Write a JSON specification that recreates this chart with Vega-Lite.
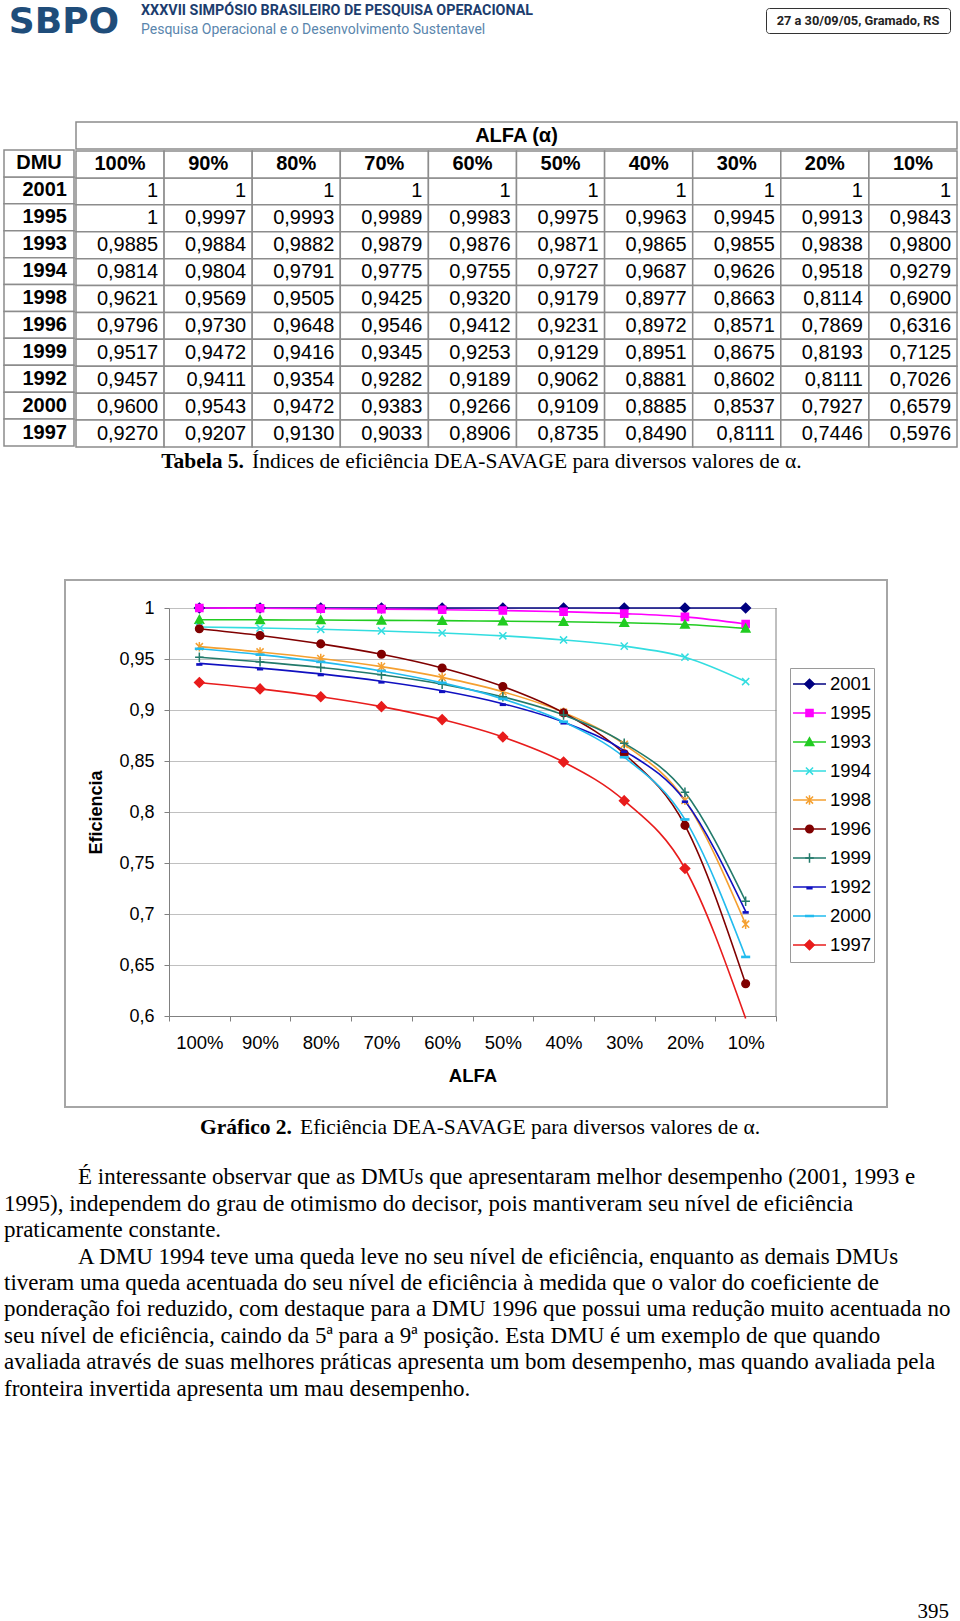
{
  "$schema": "https://vega.github.io/schema/vega-lite/v6.json",
  "padding": 0,
  "background": "white",
  "spacing": 0,
  "config": {
    "view": {"stroke": null},
    "font": "Liberation Sans",
    "locale": {"number": {"decimal": ",", "thousands": ".", "grouping": [3], "currency": ["R$", ""]}}
  },
  "datasets": {
    "eficiencia": [
      {"DMU":"2001","alfa":"100%","ef":1},{"DMU":"2001","alfa":"90%","ef":1},{"DMU":"2001","alfa":"80%","ef":1},{"DMU":"2001","alfa":"70%","ef":1},{"DMU":"2001","alfa":"60%","ef":1},{"DMU":"2001","alfa":"50%","ef":1},{"DMU":"2001","alfa":"40%","ef":1},{"DMU":"2001","alfa":"30%","ef":1},{"DMU":"2001","alfa":"20%","ef":1},{"DMU":"2001","alfa":"10%","ef":1},
      {"DMU":"1995","alfa":"100%","ef":1},{"DMU":"1995","alfa":"90%","ef":0.9997},{"DMU":"1995","alfa":"80%","ef":0.9993},{"DMU":"1995","alfa":"70%","ef":0.9989},{"DMU":"1995","alfa":"60%","ef":0.9983},{"DMU":"1995","alfa":"50%","ef":0.9975},{"DMU":"1995","alfa":"40%","ef":0.9963},{"DMU":"1995","alfa":"30%","ef":0.9945},{"DMU":"1995","alfa":"20%","ef":0.9913},{"DMU":"1995","alfa":"10%","ef":0.9843},
      {"DMU":"1993","alfa":"100%","ef":0.9885},{"DMU":"1993","alfa":"90%","ef":0.9884},{"DMU":"1993","alfa":"80%","ef":0.9882},{"DMU":"1993","alfa":"70%","ef":0.9879},{"DMU":"1993","alfa":"60%","ef":0.9876},{"DMU":"1993","alfa":"50%","ef":0.9871},{"DMU":"1993","alfa":"40%","ef":0.9865},{"DMU":"1993","alfa":"30%","ef":0.9855},{"DMU":"1993","alfa":"20%","ef":0.9838},{"DMU":"1993","alfa":"10%","ef":0.98},
      {"DMU":"1994","alfa":"100%","ef":0.9814},{"DMU":"1994","alfa":"90%","ef":0.9804},{"DMU":"1994","alfa":"80%","ef":0.9791},{"DMU":"1994","alfa":"70%","ef":0.9775},{"DMU":"1994","alfa":"60%","ef":0.9755},{"DMU":"1994","alfa":"50%","ef":0.9727},{"DMU":"1994","alfa":"40%","ef":0.9687},{"DMU":"1994","alfa":"30%","ef":0.9626},{"DMU":"1994","alfa":"20%","ef":0.9518},{"DMU":"1994","alfa":"10%","ef":0.9279},
      {"DMU":"1998","alfa":"100%","ef":0.9621},{"DMU":"1998","alfa":"90%","ef":0.9569},{"DMU":"1998","alfa":"80%","ef":0.9505},{"DMU":"1998","alfa":"70%","ef":0.9425},{"DMU":"1998","alfa":"60%","ef":0.932},{"DMU":"1998","alfa":"50%","ef":0.9179},{"DMU":"1998","alfa":"40%","ef":0.8977},{"DMU":"1998","alfa":"30%","ef":0.8663},{"DMU":"1998","alfa":"20%","ef":0.8114},{"DMU":"1998","alfa":"10%","ef":0.69},
      {"DMU":"1996","alfa":"100%","ef":0.9796},{"DMU":"1996","alfa":"90%","ef":0.973},{"DMU":"1996","alfa":"80%","ef":0.9648},{"DMU":"1996","alfa":"70%","ef":0.9546},{"DMU":"1996","alfa":"60%","ef":0.9412},{"DMU":"1996","alfa":"50%","ef":0.9231},{"DMU":"1996","alfa":"40%","ef":0.8972},{"DMU":"1996","alfa":"30%","ef":0.8571},{"DMU":"1996","alfa":"20%","ef":0.7869},{"DMU":"1996","alfa":"10%","ef":0.6316},
      {"DMU":"1999","alfa":"100%","ef":0.9517},{"DMU":"1999","alfa":"90%","ef":0.9472},{"DMU":"1999","alfa":"80%","ef":0.9416},{"DMU":"1999","alfa":"70%","ef":0.9345},{"DMU":"1999","alfa":"60%","ef":0.9253},{"DMU":"1999","alfa":"50%","ef":0.9129},{"DMU":"1999","alfa":"40%","ef":0.8951},{"DMU":"1999","alfa":"30%","ef":0.8675},{"DMU":"1999","alfa":"20%","ef":0.8193},{"DMU":"1999","alfa":"10%","ef":0.7125},
      {"DMU":"1992","alfa":"100%","ef":0.9457},{"DMU":"1992","alfa":"90%","ef":0.9411},{"DMU":"1992","alfa":"80%","ef":0.9354},{"DMU":"1992","alfa":"70%","ef":0.9282},{"DMU":"1992","alfa":"60%","ef":0.9189},{"DMU":"1992","alfa":"50%","ef":0.9062},{"DMU":"1992","alfa":"40%","ef":0.8881},{"DMU":"1992","alfa":"30%","ef":0.8602},{"DMU":"1992","alfa":"20%","ef":0.8111},{"DMU":"1992","alfa":"10%","ef":0.7026},
      {"DMU":"2000","alfa":"100%","ef":0.96},{"DMU":"2000","alfa":"90%","ef":0.9543},{"DMU":"2000","alfa":"80%","ef":0.9472},{"DMU":"2000","alfa":"70%","ef":0.9383},{"DMU":"2000","alfa":"60%","ef":0.9266},{"DMU":"2000","alfa":"50%","ef":0.9109},{"DMU":"2000","alfa":"40%","ef":0.8885},{"DMU":"2000","alfa":"30%","ef":0.8537},{"DMU":"2000","alfa":"20%","ef":0.7927},{"DMU":"2000","alfa":"10%","ef":0.6579},
      {"DMU":"1997","alfa":"100%","ef":0.927},{"DMU":"1997","alfa":"90%","ef":0.9207},{"DMU":"1997","alfa":"80%","ef":0.913},{"DMU":"1997","alfa":"70%","ef":0.9033},{"DMU":"1997","alfa":"60%","ef":0.8906},{"DMU":"1997","alfa":"50%","ef":0.8735},{"DMU":"1997","alfa":"40%","ef":0.849},{"DMU":"1997","alfa":"30%","ef":0.8111},{"DMU":"1997","alfa":"20%","ef":0.7446},{"DMU":"1997","alfa":"10%","ef":0.5976}
    ],
    "paragrafo": [
      {"linha": 1, "texto": "É interessante observar que as DMUs que apresentaram melhor desempenho (2001, 1993 e"},
      {"linha": 2, "texto": "1995), independem do grau de otimismo do decisor, pois mantiveram seu nível de eficiência"},
      {"linha": 3, "texto": "praticamente constante."},
      {"linha": 4, "texto": "A DMU 1994 teve uma queda leve no seu nível de eficiência, enquanto as demais DMUs"},
      {"linha": 5, "texto": "tiveram uma queda acentuada do seu nível de eficiência à medida que o valor do coeficiente de"},
      {"linha": 6, "texto": "ponderação foi reduzido, com destaque para a DMU 1996 que possui uma redução muito acentuada no"},
      {"linha": 7, "texto": "seu nível de eficiência, caindo da 5ª para a 9ª posição. Esta DMU é um exemplo de que quando"},
      {"linha": 8, "texto": "avaliada através de suas melhores práticas apresenta um bom desempenho, mas quando avaliada pela"},
      {"linha": 9, "texto": "fronteira invertida apresenta um mau desempenho."}
    ]
  },
  "vconcat": [
    {
      "hconcat": [
        {
          "width": 128, "height": 40,
          "data": {"values": [{"t": "SBPO"}]},
          "mark": {"type": "text", "font": "DejaVu Sans", "fontWeight": "bold", "fontSize": 36, "color": "#1f4d7a", "baseline": "middle", "dy": 2},
          "encoding": {"text": {"field": "t"}}
        },
        {
          "width": 637, "height": 40,
          "data": {"values": [{"linha": "1", "t": "XXXVII SIMPÓSIO BRASILEIRO DE PESQUISA OPERACIONAL"}, {"linha": "2", "t": "Pesquisa Operacional e o Desenvolvimento Sustentavel"}]},
          "encoding": {
            "x": {"datum": 0, "type": "quantitative", "scale": {"domain": [0, 1]}, "axis": null},
            "y": {"field": "linha", "type": "ordinal", "bandPosition": 0.5, "scale": {"type": "band", "domain": ["1", "2"], "paddingInner": 0, "paddingOuter": 0}, "axis": null},
            "text": {"field": "t"}
          },
          "layer": [
            {"transform": [{"filter": "datum.linha == '1'"}], "mark": {"type": "text", "align": "left", "baseline": "middle", "dx": 13, "dy": 1, "font": "Roboto", "fontWeight": "bold", "fontSize": 14.3, "color": "#1c3d6e"}},
            {"transform": [{"filter": "datum.linha == '2'"}], "mark": {"type": "text", "align": "left", "baseline": "middle", "dx": 13, "font": "Roboto", "fontSize": 14, "color": "#5a86ad"}}
          ]
        },
        {
          "vconcat": [
            {"width": 184, "height": 7, "data": {"values": []}, "mark": "text", "encoding": {}},
            {
              "width": 184, "height": 25,
              "view": {"stroke": "#333333", "strokeWidth": 1, "cornerRadius": 3},
              "data": {"values": [{"t": "27 a 30/09/05, Gramado, RS"}]},
              "mark": {"type": "text", "font": "Roboto", "fontWeight": "bold", "fontSize": 12.8, "color": "#222222", "baseline": "middle"},
              "encoding": {"text": {"field": "t"}}
            }
          ],
          "spacing": 0
        }
      ],
      "spacing": 0
    },
    {"width": 960, "height": 81, "data": {"values": []}, "mark": "text", "encoding": {}},
    {
      "hconcat": [
        {"width": 3, "height": 323, "data": {"values": []}, "mark": "text", "encoding": {}},
        {
          "vconcat": [
            {"width": 70, "height": 27, "data": {"values": []}, "mark": "text", "encoding": {}},
            {
              "width": 70, "height": 296,
              "data": {"name": "eficiencia"},
              "transform": [{"filter": "datum.alfa == '100%'"}],
              "layer": [
                {
                  "mark": {"type": "rect", "fill": "white", "stroke": "#8c8c8c", "strokeWidth": 1.5},
                  "encoding": {"y": {"field": "DMU", "type": "nominal", "scale": {"type": "band", "domain": ["DMU","2001","1995","1993","1994","1998","1996","1999","1992","2000","1997"], "paddingInner": 0, "paddingOuter": 0}, "axis": null}}
                },
                {
                  "transform": [{"filter": "datum.DMU == '2001'"}],
                  "mark": {"type": "rect", "fill": "white", "stroke": "#8c8c8c", "strokeWidth": 1.5},
                  "encoding": {"y": {"datum": "DMU", "type": "nominal"}}
                },
                {
                  "mark": {"type": "text", "align": "right", "baseline": "middle", "dx": 28, "fontWeight": "bold", "fontSize": 20, "color": "black"},
                  "encoding": {"y": {"field": "DMU", "type": "nominal", "bandPosition": 0.5}, "text": {"field": "DMU"}}
                },
                {
                  "transform": [{"filter": "datum.DMU == '2001'"}],
                  "mark": {"type": "text", "align": "center", "baseline": "middle", "fontWeight": "bold", "fontSize": 20, "color": "black"},
                  "encoding": {"y": {"datum": "DMU", "type": "nominal", "bandPosition": 0.5}, "text": {"value": "DMU"}}
                }
              ]
            }
          ],
          "spacing": 0
        },
        {
          "vconcat": [
            {
              "width": 881, "height": 27,
              "view": {"stroke": "#8c8c8c", "strokeWidth": 1.5},
              "data": {"values": [{"t": "ALFA (α)"}]},
              "mark": {"type": "text", "baseline": "middle", "fontWeight": "bold", "fontSize": 20, "color": "black"},
              "encoding": {"text": {"field": "t"}}
            },
            {
              "width": 881, "height": 296,
              "data": {"name": "eficiencia"},
              "encoding": {
                "x": {"field": "alfa", "type": "ordinal", "scale": {"type": "band", "domain": ["100%","90%","80%","70%","60%","50%","40%","30%","20%","10%"], "paddingInner": 0, "paddingOuter": 0}, "axis": null},
                "y": {"field": "DMU", "type": "nominal", "scale": {"type": "band", "domain": ["DMU","2001","1995","1993","1994","1998","1996","1999","1992","2000","1997"], "paddingInner": 0, "paddingOuter": 0}, "axis": null}
              },
              "layer": [
                {"mark": {"type": "rect", "fill": "white", "stroke": "#8c8c8c", "strokeWidth": 1.5}},
                {
                  "transform": [{"filter": "datum.DMU == '2001'"}],
                  "mark": {"type": "rect", "fill": "white", "stroke": "#8c8c8c", "strokeWidth": 1.5},
                  "encoding": {"y": {"datum": "DMU", "type": "nominal"}}
                },
                {
                  "transform": [{"filter": "datum.DMU == '2001'"}],
                  "mark": {"type": "text", "align": "center", "baseline": "middle", "fontWeight": "bold", "fontSize": 20, "color": "black"},
                  "encoding": {
                    "x": {"field": "alfa", "type": "ordinal", "bandPosition": 0.5},
                    "y": {"datum": "DMU", "type": "nominal", "bandPosition": 0.5},
                    "text": {"field": "alfa"}
                  }
                },
                {
                  "mark": {"type": "text", "align": "right", "baseline": "middle", "dx": -6, "fontSize": 20, "color": "black"},
                  "encoding": {
                    "x": {"field": "alfa", "type": "ordinal", "bandPosition": 1},
                    "y": {"field": "DMU", "type": "nominal", "bandPosition": 0.5},
                    "text": {"condition": {"test": "datum.ef == 1", "value": "1"}, "field": "ef", "type": "quantitative", "format": ".4f"}
                  }
                }
              ]
            }
          ],
          "spacing": 0
        }
      ],
      "spacing": 0
    },
    {
      "hconcat": [
        {
          "width": 248, "height": 28,
          "data": {"values": [{"rotulo": "Tabela 5."}]},
          "mark": {"type": "text", "align": "right", "baseline": "middle", "dx": -4, "font": "Liberation Serif", "fontWeight": "bold", "fontSize": 21.5, "color": "black"},
          "encoding": {"x": {"datum": 1, "type": "quantitative", "scale": {"domain": [0, 1]}, "axis": null}, "text": {"field": "rotulo"}}
        },
        {
          "width": 712, "height": 28,
          "data": {"values": [{"descricao": "Índices de eficiência DEA-SAVAGE para diversos valores de α."}]},
          "mark": {"type": "text", "align": "left", "baseline": "middle", "dx": 4, "font": "Liberation Serif", "fontSize": 21.5, "color": "black"},
          "encoding": {"x": {"datum": 0, "type": "quantitative", "scale": {"domain": [0, 1]}, "axis": null}, "text": {"field": "descricao"}}
        }
      ],
      "spacing": 0
    },
    {"width": 960, "height": 103, "data": {"values": []}, "mark": "text", "encoding": {}},
    {
      "hconcat": [
        {"width": 64, "height": 527, "data": {"values": []}, "mark": "text", "encoding": {}},
        {
          "width": 822, "height": 527,
          "view": {"stroke": "#a6a6a6", "strokeWidth": 2},
          "data": {"name": "eficiencia"},
          "encoding": {
            "x": {
              "field": "alfa", "type": "ordinal", "bandPosition": 0.5,
              "scale": {"type": "band", "domain": ["100%","90%","80%","70%","60%","50%","40%","30%","20%","10%"], "range": [104, 711], "paddingInner": 0, "paddingOuter": 0},
              "axis": {"orient": "bottom", "offset": -91, "title": "ALFA", "tickBand": "extent", "labelAngle": 0, "labelFont": "Liberation Sans", "labelFontSize": 18.5, "labelColor": "black", "labelPadding": 12, "domainColor": "#808080", "tickColor": "#808080", "tickSize": 5, "titleFont": "Liberation Sans", "titleFontSize": 18.5, "titleFontWeight": "bold", "titleColor": "black", "titlePadding": 15, "grid": false}
            },
            "y": {
              "field": "ef", "type": "quantitative",
              "scale": {"domain": [0.6, 1], "range": [436, 28], "nice": false, "zero": false},
              "axis": {"orient": "left", "offset": -104, "values": [0.6, 0.65, 0.7, 0.75, 0.8, 0.85, 0.9, 0.95, 1], "format": "~g", "title": "Eficiencia", "labelFont": "Liberation Sans", "labelFontSize": 18, "labelColor": "black", "labelPadding": 10, "domainColor": "#808080", "tickColor": "#808080", "tickSize": 5, "grid": true, "gridColor": "#c0c0c0", "titleFont": "Liberation Sans", "titleFontSize": 18, "titleFontWeight": "bold", "titleColor": "black", "titlePadding": 13}
            }
          },
          "layer": [
            {
              "transform": [{"filter": "datum.DMU == '2001' && datum.alfa == '10%'"}],
              "mark": {"type": "rule", "color": "#808080", "strokeWidth": 1},
              "encoding": {
                "x": {"datum": "10%", "type": "ordinal", "bandPosition": 1},
                "y": {"datum": 0.6, "type": "quantitative"},
                "y2": {"datum": 1}
              }
            },
            {
              "mark": {"type": "line", "interpolate": "monotone", "strokeWidth": 1.6},
              "encoding": {
                "color": {
                  "field": "DMU", "type": "nominal",
                  "sort": ["2001","1995","1993","1994","1998","1996","1999","1992","2000","1997"],
                  "scale": {"range": ["#000080","#ff00ff","#22cc22","#33dde0","#f5a030","#800000","#227a6b","#1010c0","#22bbee","#e81c1c"]},
                  "legend": {
                    "orient": "none", "legendX": 790, "legendY": 668, "title": null, "direction": "vertical",
                    "strokeColor": "#9a9a9a", "padding": 2,
                    "labelFont": "Liberation Sans", "labelFontSize": 18.5, "labelColor": "black", "labelOffset": 3,
                    "symbolType": "stroke", "symbolSize": 1089, "symbolStrokeWidth": 1.6, "rowPadding": 0, "clipHeight": 28.1
                  }
                }
              }
            },
            {
              "transform": [{"filter": "datum.ef >= 0.6"}],
              "mark": {"type": "point", "filled": true, "size": 90, "strokeWidth": 1.5, "opacity": 1},
              "encoding": {
                "fill": {"field": "DMU", "type": "nominal", "scale": {"domain": ["2001","1995","1993","1994","1998","1996","1999","1992","2000","1997"], "range": ["#000080","#ff00ff","#22cc22","#33dde0","#f5a030","#800000","#227a6b","#1010c0","#22bbee","#e81c1c"]},
                  "legend": {"orient": "none", "legendX": 790, "legendY": 668, "title": null, "direction": "vertical", "padding": 2, "labelFont": "Liberation Sans", "labelFontSize": 18.5, "labelExpr": "''", "labelOffset": 3, "symbolSize": 90, "symbolStrokeWidth": 1.5, "symbolOffset": 8.25, "rowPadding": 0, "clipHeight": 28.1}},
                "stroke": {"field": "DMU", "type": "nominal", "scale": {"domain": ["2001","1995","1993","1994","1998","1996","1999","1992","2000","1997"], "range": ["#000080","#ff00ff","#22cc22","#33dde0","#f5a030","#800000","#227a6b","#1010c0","#22bbee","#e81c1c"]},
                  "legend": {"orient": "none", "legendX": 790, "legendY": 668, "title": null, "direction": "vertical", "padding": 2, "labelFont": "Liberation Sans", "labelFontSize": 18.5, "labelExpr": "''", "labelOffset": 3, "symbolSize": 90, "symbolStrokeWidth": 1.5, "symbolOffset": 8.25, "rowPadding": 0, "clipHeight": 28.1}},
                "shape": {"field": "DMU", "type": "nominal", "scale": {"domain": ["2001","1995","1993","1994","1998","1996","1999","1992","2000","1997"], "range": ["M0,-1L1,0L0,1L-1,0Z", "M-0.75,-0.75H0.75V0.75H-0.75Z", "M0,-0.9L0.9,0.75H-0.9Z", "M-0.75,-0.75L0.75,0.75M-0.75,0.75L0.75,-0.75", "M-0.75,-0.75L0.75,0.75M-0.75,0.75L0.75,-0.75M0,-1V1", "M-0.8,0A0.8,0.8,0,1,0,0.8,0A0.8,0.8,0,1,0,-0.8,0Z", "M-0.9,0H0.9M0,-1V1", "M-0.5,0.1H0.5V0.35H-0.5Z", "M-0.8,-0.12H0.8V0.12H-0.8Z", "M0,-1L1,0L0,1L-1,0Z"]},
                  "legend": {"orient": "none", "legendX": 790, "legendY": 668, "title": null, "direction": "vertical", "padding": 2, "labelFont": "Liberation Sans", "labelFontSize": 18.5, "labelExpr": "''", "labelOffset": 3, "symbolSize": 90, "symbolStrokeWidth": 1.5, "symbolOffset": 8.25, "rowPadding": 0, "clipHeight": 28.1}}
              }
            }
          ]
        }
      ],
      "spacing": 0
    },
    {
      "hconcat": [
        {
          "width": 296, "height": 40,
          "data": {"values": [{"rotulo": "Gráfico 2."}]},
          "mark": {"type": "text", "align": "right", "baseline": "middle", "dx": -4, "font": "Liberation Serif", "fontWeight": "bold", "fontSize": 21.5, "color": "black"},
          "encoding": {"x": {"datum": 1, "type": "quantitative", "scale": {"domain": [0, 1]}, "axis": null}, "text": {"field": "rotulo"}}
        },
        {
          "width": 664, "height": 40,
          "data": {"values": [{"descricao": "Eficiência DEA-SAVAGE para diversos valores de α."}]},
          "mark": {"type": "text", "align": "left", "baseline": "middle", "dx": 4, "font": "Liberation Serif", "fontSize": 21.5, "color": "black"},
          "encoding": {"x": {"datum": 0, "type": "quantitative", "scale": {"domain": [0, 1]}, "axis": null}, "text": {"field": "descricao"}}
        }
      ],
      "spacing": 0
    },
    {"width": 960, "height": 16, "data": {"values": []}, "mark": "text", "encoding": {}},
    {
      "width": 960, "height": 238,
      "data": {"name": "paragrafo"},
      "encoding": {
        "x": {"datum": 0, "type": "quantitative", "scale": {"domain": [0, 1]}, "axis": null},
        "y": {"field": "linha", "type": "ordinal", "bandPosition": 0.5, "scale": {"type": "band", "domain": [1, 2, 3, 4, 5, 6, 7, 8, 9], "paddingInner": 0, "paddingOuter": 0}, "axis": null},
        "text": {"field": "texto"}
      },
      "layer": [
        {
          "transform": [{"filter": "datum.linha == 1 || datum.linha == 4"}],
          "mark": {"type": "text", "align": "left", "baseline": "middle", "dx": 78, "font": "Liberation Serif", "fontSize": 23, "color": "black"}
        },
        {
          "transform": [{"filter": "datum.linha != 1 && datum.linha != 4"}],
          "mark": {"type": "text", "align": "left", "baseline": "middle", "dx": 4, "font": "Liberation Serif", "fontSize": 23, "color": "black"}
        }
      ]
    },
    {"width": 960, "height": 199, "data": {"values": []}, "mark": "text", "encoding": {}},
    {
      "width": 960, "height": 20,
      "data": {"values": [{"pagina": "395"}]},
      "mark": {"type": "text", "align": "right", "baseline": "middle", "dx": -11, "font": "Liberation Serif", "fontSize": 21, "color": "black"},
      "encoding": {"x": {"datum": 1, "type": "quantitative", "scale": {"domain": [0, 1]}, "axis": null}, "text": {"field": "pagina"}}
    }
  ]
}
